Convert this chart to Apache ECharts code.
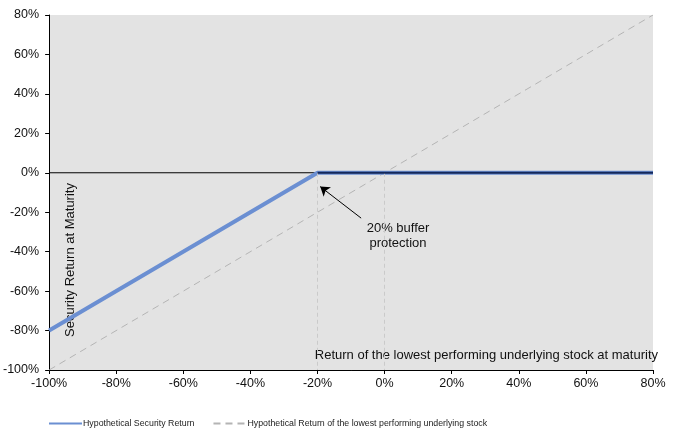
<!DOCTYPE html>
<html>
<head>
<meta charset="utf-8">
<script src="https://cdn.jsdelivr.net/npm/echarts@6/dist/echarts.min.js"></script>
<style>
  html, body { margin: 0; padding: 0; background: #fff; }
  #chart { width: 679px; height: 433px; }
</style>
</head>
<body>
<div id="chart"></div>
<script>
// Payoff points
var securityX = [-100, -20, 80];
var securityY = [-80, 0, 0];
var flatX = [-20, 80];
var flatY = [0, 0];
var stockX = [-100, 80];
var stockY = [-100, 80];
var guideX = [-20, 0];
var axisMin = -100;
var axisMax = 80;
var axisStep = 20;

var pairs = function (xs, ys) {
    return xs.map(function (x, i) { return [x, ys[i]]; });
};

var chart_element = document.getElementById('chart');
var chart = echarts.init(chart_element);

var font = 'Liberation Sans, Arial, sans-serif';

chart.setOption({
    animation: false,
    textStyle: { fontFamily: font },

    grid: {
        left: 48,
        right: 26,
        top: 15,
        bottom: 63,
        show: true,
        backgroundColor: '#e3e3e3',
        borderWidth: 0
    },

    legend: {
        left: 43,
        top: 414,
        itemWidth: 33,
        itemHeight: 10,
        itemGap: 18,
        itemStyle: { opacity: 0 },
        textStyle: { fontSize: 8.8, color: '#222', fontFamily: font, padding: [0, 0, 0, -4] },
        data: ['Hypothetical Security Return', 'Hypothetical Return of the lowest performing underlying stock']
    },

    xAxis: {
        type: 'value',
        min: axisMin,
        max: axisMax,
        interval: axisStep,
        axisLine: { onZero: false, lineStyle: { color: '#000', width: 1 } },
        axisTick: { show: true, length: 4, lineStyle: { color: '#000' } },
        axisLabel: {
            color: '#111',
            fontSize: 12.5,
            margin: 7,
            formatter: function (v) { return v + '%'; }
        },
        splitLine: { show: false }
    },

    yAxis: {
        type: 'value',
        min: axisMin,
        max: axisMax,
        interval: axisStep,
        axisLine: { show: true, onZero: false, lineStyle: { color: '#000', width: 1 } },
        axisTick: { show: true, length: 4, lineStyle: { color: '#000' } },
        axisLabel: {
            color: '#111',
            fontSize: 12.5,
            margin: 10,
            formatter: function (v) { return v + '%'; }
        },
        splitLine: { show: false }
    },

    graphic: [
        {
            type: 'text',
            x: 70,
            y: 260,
            rotation: Math.PI / 2,
            style: {
                text: 'Security Return at Maturity',
                fontSize: 13,
                fontFamily: font,
                fill: '#111',
                textAlign: 'center',
                textVerticalAlign: 'middle'
            }
        },
        {
            type: 'text',
            x: 658,
            y: 355,
            style: {
                text: 'Return of the lowest performing underlying stock at maturity',
                fontSize: 13,
                fontFamily: font,
                fill: '#111',
                textAlign: 'right',
                textVerticalAlign: 'middle'
            }
        },
        {
            type: 'text',
            x: 398,
            y: 236,
            style: {
                text: '20% buffer\nprotection',
                fontSize: 13,
                lineHeight: 15,
                fontFamily: font,
                fill: '#111',
                textAlign: 'center',
                textVerticalAlign: 'middle'
            }
        }
    ],

    series: [
        {
            name: 'Hypothetical Return of the lowest performing underlying stock',
            type: 'line',
            symbol: 'none',
            z: 2,
            lineStyle: { color: '#b4b4b4', width: 1, type: [7, 5] },
            itemStyle: { color: '#b4b4b4' },
            data: pairs(stockX, stockY),
            markLine: {
                silent: true,
                symbol: 'none',
                label: { show: false },
                lineStyle: { color: '#cacaca', width: 1, type: [4, 3] },
                data: guideX.map(function (x) {
                    return [{ coord: [x, 0] }, { coord: [x, axisMin] }];
                })
            }
        },
        {
            name: 'zero',
            type: 'line',
            symbol: 'none',
            z: 3,
            lineStyle: { color: '#000', width: 1 },
            data: pairs([axisMin, axisMax], [0, 0])
        },
        {
            name: 'Hypothetical Security Return',
            type: 'line',
            symbol: 'none',
            z: 4,
            lineStyle: { color: '#6b8fd2', width: 4 },
            itemStyle: { color: '#6b8fd2' },
            data: pairs(securityX, securityY),
            markLine: {
                silent: true,
                symbol: ['none', 'arrow'],
                symbolSize: 9,
                label: { show: false },
                lineStyle: { color: '#000', width: 1, type: 'solid' },
                data: [[{ coord: [-7, -23] }, { coord: [-19.2, -7] }]]
            }
        },
        {
            name: 'flat',
            type: 'line',
            symbol: 'none',
            z: 5,
            lineStyle: { color: '#14285a', width: 2 },
            data: pairs(flatX, flatY)
        }
    ]
});

var resizeChart;
window.addEventListener('resize', function () {
    clearTimeout(resizeChart);
    resizeChart = setTimeout(function () {
        chart.resize();
    }, 200);
});
</script>
</body>
</html>
